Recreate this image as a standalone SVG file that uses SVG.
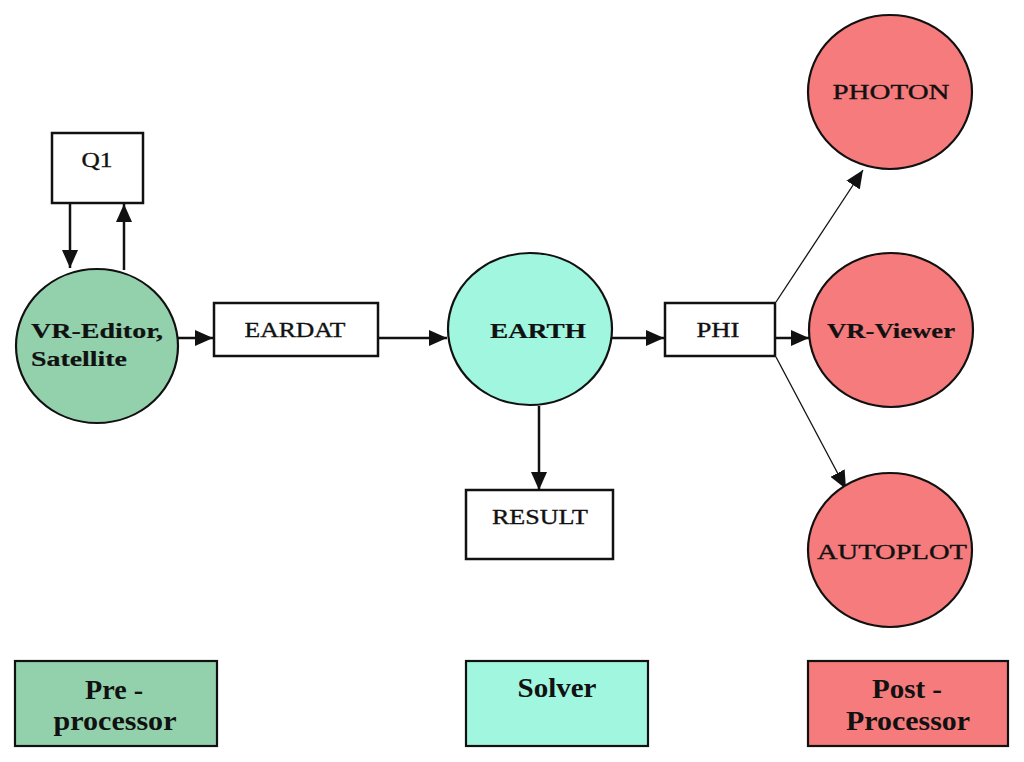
<svg xmlns="http://www.w3.org/2000/svg" width="1024" height="762" viewBox="0 0 1024 762">
  <style>
    .box { fill: #ffffff; stroke: #111; stroke-width: 2.5; }
    .pre { fill: #93d1ad; stroke: #111; stroke-width: 2.2; }
    .sol { fill: #a0f6de; stroke: #111; stroke-width: 2.2; }
    .post { fill: #f57b7c; stroke: #111; stroke-width: 2.2; }
    .lbl { font-family: "Liberation Serif", "Times New Roman", serif; font-size: 21px; fill: #111; stroke: #111; stroke-width: 0.35; text-anchor: middle; }
    .b { font-weight: bold; stroke-width: 0.2; }
    .leg { font-family: "Liberation Serif", "Times New Roman", serif; font-size: 27px; font-weight: bold; fill: #111; text-anchor: middle; }
    .c { fill: none; stroke: #111; stroke-width: 2.5; marker-end: url(#ah); }
    .thin { fill: none; stroke: #111; stroke-width: 1.3; marker-end: url(#ah); }
  </style>
  <defs>
    <marker id="ah" viewBox="0 0 18 16" markerWidth="18" markerHeight="16" refX="18" refY="8" orient="auto" markerUnits="userSpaceOnUse">
      <path d="M0,0 L18,8 L0,16 z" fill="#111"/>
    </marker>
  </defs>
  <rect width="1024" height="762" fill="#ffffff"/>

  <g id="connectors">
    <line class="c" x1="70" y1="203" x2="70" y2="268"/>
    <line class="c" x1="124" y1="270" x2="124" y2="204"/>
    <line class="c" x1="178" y1="338" x2="213" y2="338"/>
    <line class="c" x1="378" y1="338" x2="447" y2="338"/>
    <line class="c" x1="612" y1="338" x2="664" y2="338"/>
    <line class="c" x1="539" y1="406" x2="539" y2="490"/>
    <line class="c" x1="776" y1="338" x2="809" y2="338"/>
    <line class="thin" x1="776" y1="302" x2="863" y2="170"/>
    <line class="thin" x1="776" y1="357" x2="846" y2="489"/>
  </g>

  <g id="node-q1">
    <rect class="box" x="52" y="133" width="91" height="70"/>
    <text class="lbl" x="97" y="167" textLength="31" lengthAdjust="spacingAndGlyphs">Q1</text>
  </g>

  <g id="node-vr-editor">
    <ellipse class="pre" cx="97" cy="346" rx="81" ry="77"/>
    <text class="lbl b" x="31" y="338" style="text-anchor:start" textLength="132" lengthAdjust="spacingAndGlyphs">VR-Editor,</text>
    <text class="lbl b" x="31" y="366" style="text-anchor:start" textLength="96" lengthAdjust="spacingAndGlyphs">Satellite</text>
  </g>

  <g id="node-eardat">
    <rect class="box" x="214" y="303" width="164" height="53"/>
    <text class="lbl" x="295" y="337" textLength="101" lengthAdjust="spacingAndGlyphs">EARDAT</text>
  </g>

  <g id="node-earth">
    <ellipse class="sol" cx="530" cy="329" rx="82" ry="76"/>
    <text class="lbl b" x="538" y="338" textLength="96" lengthAdjust="spacingAndGlyphs">EARTH</text>
  </g>

  <g id="node-phi">
    <rect class="box" x="665" y="303" width="110" height="53"/>
    <text class="lbl" x="718" y="337" textLength="43" lengthAdjust="spacingAndGlyphs">PHI</text>
  </g>

  <g id="node-result">
    <rect class="box" x="466" y="490" width="147" height="69"/>
    <text class="lbl" x="540" y="524" textLength="96" lengthAdjust="spacingAndGlyphs">RESULT</text>
  </g>

  <g id="node-photon">
    <ellipse class="post" cx="890" cy="92" rx="82" ry="77"/>
    <text class="lbl" x="891" y="99" textLength="117" lengthAdjust="spacingAndGlyphs">PHOTON</text>
  </g>

  <g id="node-vr-viewer">
    <ellipse class="post" cx="891" cy="330" rx="82" ry="77"/>
    <text class="lbl b" x="891" y="338" textLength="128" lengthAdjust="spacingAndGlyphs">VR-Viewer</text>
  </g>

  <g id="node-autoplot">
    <ellipse class="post" cx="890" cy="550" rx="82" ry="77"/>
    <text class="lbl" x="892" y="559" textLength="150" lengthAdjust="spacingAndGlyphs">AUTOPLOT</text>
  </g>

  <g id="legend-pre">
    <rect class="pre" x="15" y="661" width="202" height="85"/>
    <text class="leg" x="114" y="699" textLength="58" lengthAdjust="spacingAndGlyphs">Pre -</text>
    <text class="leg" x="115" y="730" textLength="123" lengthAdjust="spacingAndGlyphs">processor</text>
  </g>

  <g id="legend-solver">
    <rect class="sol" x="466" y="661" width="182" height="85"/>
    <text class="leg" x="557" y="697" textLength="79" lengthAdjust="spacingAndGlyphs">Solver</text>
  </g>

  <g id="legend-post">
    <rect class="post" x="808" y="661" width="200" height="85"/>
    <text class="leg" x="907" y="698" textLength="70" lengthAdjust="spacingAndGlyphs">Post -</text>
    <text class="leg" x="908" y="730" textLength="124" lengthAdjust="spacingAndGlyphs">Processor</text>
  </g>
</svg>
